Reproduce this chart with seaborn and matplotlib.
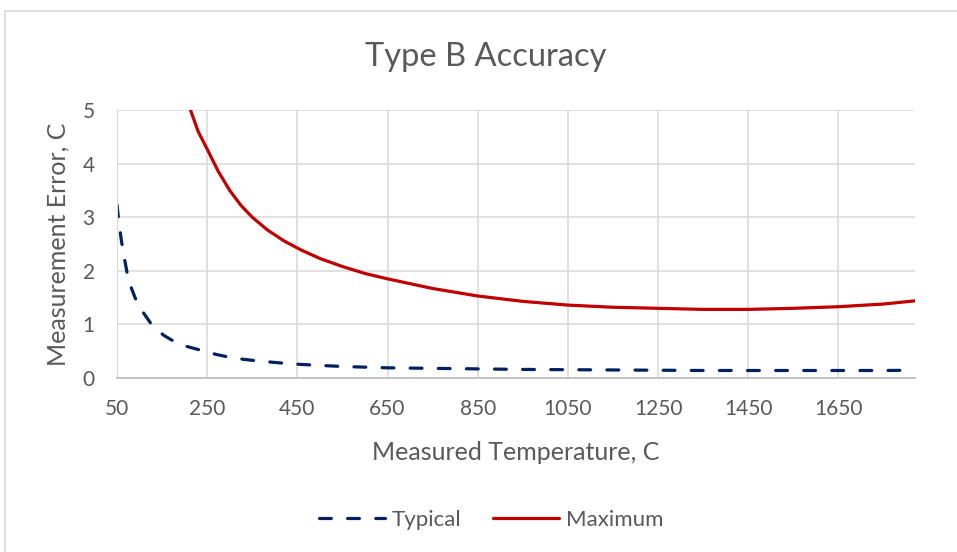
import seaborn as sns
import matplotlib.pyplot as plt
import matplotlib.lines as mlines
import pandas as pd

# values
typ_temp = [50, 55, 60, 66, 72, 80, 90, 100, 110, 124, 140, 153, 175, 200, 235, 270, 309, 350,
            400, 443, 500, 550, 650, 750, 850, 950, 1050, 1150, 1250, 1350, 1450, 1550, 1650,
            1750, 1820]
typ_err = [3.23, 2.85, 2.55, 2.25, 1.98, 1.72, 1.5, 1.33, 1.2, 1.03, 0.9, 0.8, 0.69, 0.6, 0.52,
           0.44, 0.37, 0.33, 0.29, 0.26, 0.235, 0.215, 0.19, 0.18, 0.17, 0.16, 0.155, 0.15, 0.145,
           0.14, 0.14, 0.14, 0.14, 0.14, 0.145]

max_temp = [213, 230, 250, 275, 300, 325, 350, 384, 420, 458, 500, 550, 600, 650, 750, 850, 950,
            1050, 1150, 1250, 1350, 1450, 1550, 1650, 1750, 1820]
max_err = [5.0, 4.6, 4.27, 3.85, 3.5, 3.22, 3.0, 2.76, 2.56, 2.39, 2.23, 2.08, 1.95, 1.85, 1.67,
           1.53, 1.43, 1.36, 1.32, 1.30, 1.28, 1.28, 1.30, 1.33, 1.38, 1.44]

x_ticks = [50, 250, 450, 650, 850, 1050, 1250, 1450, 1650]
y_ticks = [0, 1, 2, 3, 4, 5]

typ = pd.DataFrame({'temp': typ_temp, 'err': typ_err})
mx = pd.DataFrame({'temp': max_temp, 'err': max_err})

sns.set_style('white')
plt.rcParams['font.family'] = ['Lato', 'DejaVu Sans']
grey_text = '#595959'

fig = plt.figure(figsize=(9.57, 5.52), dpi=100)
ax = fig.add_axes([117 / 957, 1 - 378 / 552, (915 - 117) / 957, (378 - 110) / 552])

sns.lineplot(data=typ, x='temp', y='err', ax=ax, color='#002060', linewidth=2.3,
             label='Typical')
ax.lines[-1].set_dashes([3.7, 5.1])
ax.lines[-1].set_dash_capstyle('round')
sns.lineplot(data=mx, x='temp', y='err', ax=ax, color='#C00000', linewidth=2.3,
             label='Maximum')

ax.set_xlim(50, 1820)
ax.set_ylim(0, 5)
ax.set_xticks(x_ticks)
ax.set_yticks(y_ticks)
ax.grid(True, color='#D9D9D9', linewidth=1.1)
ax.set_axisbelow(True)
for s in ['top', 'right']:
    ax.spines[s].set_visible(False)
ax.spines['left'].set_color('#D9D9D9')
ax.spines['bottom'].set_color('#BFBFBF')
ax.spines['bottom'].set_linewidth(1.3)
ax.tick_params(axis='both', length=0, labelsize=15, labelcolor=grey_text)
ax.tick_params(axis='x', pad=15)
ax.tick_params(axis='y', pad=16)

ax.set_xlabel('Measured Temperature, C', fontsize=18, color=grey_text, va='center')
ax.xaxis.set_label_coords(0.5, -(453 - 378) / 268)
ax.set_ylabel('Measurement Error, C', fontsize=18, color=grey_text, va='center')
ax.yaxis.set_label_coords((58 - 117) / 798, 0.5)
fig.text(486 / 957, 1 - 57 / 552, 'Type B Accuracy', ha='center', va='center', fontsize=23.5,
         color=grey_text)

handles, labels = ax.get_legend_handles_labels()
ax.legend(handles, labels, loc='center', bbox_to_anchor=(491 / 957, 32 / 552),
          bbox_transform=fig.transFigure, ncol=2, frameon=False, fontsize=16,
          labelcolor=grey_text, handlelength=3.0, handletextpad=0.3, columnspacing=1.4)

# outer chart border
fig.add_artist(mlines.Line2D([5 / 957, 5 / 957], [0, 1 - 11 / 552], color='#D9D9D9', lw=1.2))
fig.add_artist(mlines.Line2D([5 / 957, 1], [1 - 11 / 552, 1 - 11 / 552], color='#D9D9D9', lw=1.2))

fig.savefig('out.png', dpi=100)
